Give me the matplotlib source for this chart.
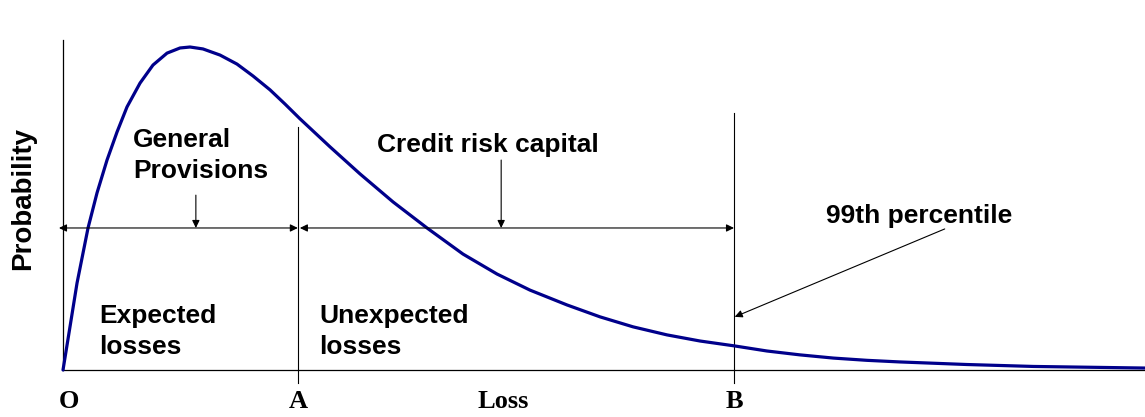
"""Loss distribution sketch: expected vs unexpected losses."""

import matplotlib
matplotlib.use('Agg')
import matplotlib.pyplot as plt

# loss distribution (B = 10 loss units, peak = 1)
loss = [0.0, 0.104, 0.209, 0.373, 0.507, 0.656, 0.805, 0.954, 1.148,
        1.341, 1.550, 1.744, 1.893, 2.086, 2.340, 2.593, 2.832, 3.085,
        3.308, 3.532, 3.979, 4.426, 4.918, 5.425, 5.961, 6.468, 6.960,
        7.511, 8.003, 8.495, 9.001, 9.493, 10.0, 10.49, 10.98, 11.48,
        11.98, 12.47, 13.47, 14.46, 16.13]
prob = [0.0, 0.134, 0.270, 0.441, 0.550, 0.652, 0.739, 0.817, 0.891,
        0.947, 0.984, 1.0, 1.003, 0.997, 0.978, 0.950, 0.913, 0.870,
        0.826, 0.780, 0.693, 0.609, 0.522, 0.441, 0.360, 0.298, 0.248,
        0.202, 0.165, 0.134, 0.109, 0.090, 0.075, 0.059, 0.047, 0.037,
        0.030, 0.025, 0.017, 0.011, 0.006]

# marked points on the loss axis
marks = ['O', 'A', 'Loss', 'B']
mark_pos = [0.09, 3.5, 6.56, 10.0]
loss_a = 3.5
loss_b = 10.0

CURVE = '#00008b'
SANS = dict(family='Liberation Sans', fontweight='bold', fontsize=19)
SERIF = dict(family='Liberation Serif', fontweight='bold', fontsize=19)


def arrow(ax, start, end, style='-|>'):
    ax.annotate('', xy=end, xytext=start,
                arrowprops=dict(arrowstyle=style + ',head_length=0.45,'
                                'head_width=0.22', mutation_scale=10,
                                lw=0.8, color='k', shrinkA=0, shrinkB=0))


def main():
    fig = plt.figure(figsize=(11.45, 4.17), dpi=100)
    ax = fig.add_axes([0, 0, 1, 1])
    ax.set_xlim(-0.939, 16.125)
    ax.set_ylim(-0.146, 1.149)
    for side in ('top', 'right'):
        ax.spines[side].set_visible(False)
    ax.spines['left'].set_position(('data', 0))
    ax.spines['bottom'].set_position(('data', 0))
    ax.spines['left'].set_bounds(0, 1.025)
    ax.spines['bottom'].set_bounds(0, 16.125)
    for side in ('left', 'bottom'):
        ax.spines[side].set_linewidth(0.9)
    ax.set_xticks([])
    ax.set_yticks([])
    ax.patch.set_visible(False)

    ax.plot(loss, prob, color=CURVE, lw=2.3, solid_capstyle='round',
            solid_joinstyle='round', zorder=3)

    # A and B markers
    ax.plot([loss_a, loss_a], [-0.04, 0.755], color='k', lw=0.8)
    ax.plot([loss_b, loss_b], [-0.04, 0.798], color='k', lw=0.8)

    # span arrows
    arrow(ax, (-0.06, 0.441), (loss_a, 0.441), '<|-|>')
    arrow(ax, (loss_a + 0.03, 0.441), (loss_b, 0.441), '<|-|>')
    arrow(ax, (1.98, 0.543), (1.98, 0.441))
    arrow(ax, (6.53, 0.652), (6.53, 0.441))
    arrow(ax, (13.14, 0.438), (10.01, 0.165))

    ax.text(1.04, 0.693, 'General', **SANS)
    ax.text(1.04, 0.596, 'Provisions', **SANS)
    ax.text(4.68, 0.677, 'Credit risk capital', **SANS)
    ax.text(11.37, 0.457, '99th percentile', **SANS)
    ax.text(0.54, 0.146, 'Expected', **SANS)
    ax.text(0.54, 0.05, 'losses', **SANS)
    ax.text(3.82, 0.146, 'Unexpected', **SANS)
    ax.text(3.82, 0.05, 'losses', **SANS)
    ax.text(-0.596, 0.534, 'Probability', rotation=90, ha='center',
            va='center', family='Liberation Sans', fontweight='bold',
            fontsize=20)

    for label, x in zip(marks, mark_pos):
        ax.text(x, -0.118, label, ha='center', **SERIF)

    fig.savefig('out.png', dpi=100)


if __name__ == '__main__':
    main()
